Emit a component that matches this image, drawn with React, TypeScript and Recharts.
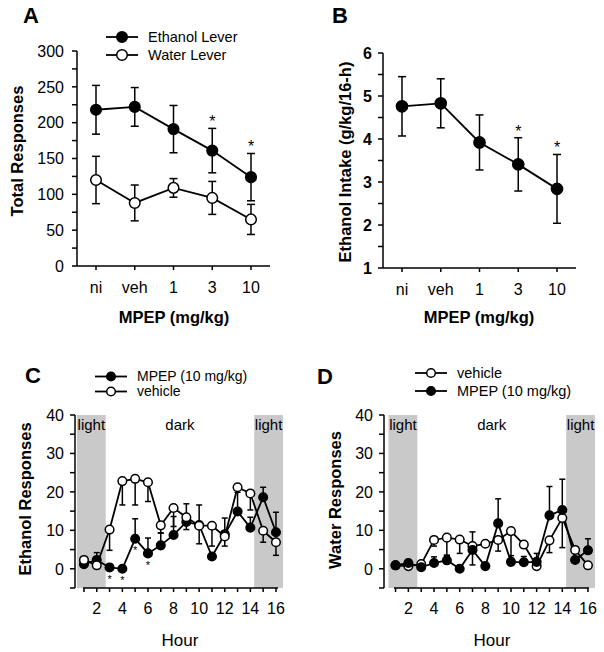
import React from 'react';
import { LineChart, Line, XAxis, YAxis, ErrorBar, ReferenceArea, Legend } from 'recharts';

const FONT = '"Liberation Sans", Arial, Helvetica, sans-serif';
const INK = '#000';
const SHADE = '#c9c9c9';

// ---- panels A & B: dose response ----
const doses = ['ni', 'veh', '1', '3', '10'];
const ethanolLever = [218, 222, 191, 161, 124];
const ethanolLeverSem = [34, 27, 33, 31, 33];
const waterLever = [120, 88, 109, 95, 65];
const waterLeverSem = [33, 25, 13, 23, 21];
const ethanolIntake = [4.76, 4.83, 3.92, 3.41, 2.84];
const ethanolIntakeSem = [0.69, 0.57, 0.64, 0.62, 0.8];
const doseSignificant = [false, false, false, true, true];

const responseTicks = [0, 25, 50, 75, 100, 125, 150, 175, 200, 225, 250, 275, 300];
const intakeTicks = [1, 1.5, 2, 2.5, 3, 3.5, 4, 4.5, 5, 5.5, 6];

// ---- panels C & D: hourly time course ----
const hours = [1, 2, 3, 4, 5, 6, 7, 8, 9, 10, 11, 12, 13, 14, 15, 16];
const countTicks = [-5, 0, 5, 10, 15, 20, 25, 30, 35, 40];
const lightPeriods = [[0.45, 2.7], [14.3, 16.55]];
const darkPeriod = [2.7, 14.3];

// ethanol lever, per hour
const etohMpep = [1.2, 2.3, 0.35, 0, 7.8, 4.0, 6.1, 8.8, 12.2, 11.4, 3.2, 9.0, 14.9, 10.7, 18.6, 9.5];
const etohMpepUp = [0.8, 1.9, 0, 0, 5.2, 4.0, 3.2, 4.8, 4.7, 5.2, 0, 4.2, 5.0, 2.7, 2.6, 5.2];
const etohMpepDown = [0, 0, 0, 0, 0, 0, 0, 0, 0, 0, 0, 0, 0, 0, 0, 0];
const etohVehicle = [2.3, 0.9, 10.2, 22.8, 23.4, 22.5, 11.3, 15.8, 13.4, 11.2, 11.2, 8.4, 21.2, 19.6, 9.9, 6.9];
const etohVehicleUp = [0, 0, 0, 0, 0, 0, 0, 0, 0, 0, 0, 0, 0, 0, 0, 0];
const etohVehicleDown = [0, 0, 5.4, 6.2, 6.8, 5.0, 2.0, 4.8, 3.2, 4.7, 5.3, 2.5, 0, 4.3, 3.0, 3.4];
const etohSignificant = [false, false, true, true, true, true, false, false, false, false, false, false, false, false, false, false];

// water lever, per hour
const waterVehicle = [0.9, 0.7, 1.2, 7.5, 8.1, 7.6, 5.9, 6.5, 7.5, 9.8, 6.3, 0.7, 7.4, 13.2, 4.9, 0.9];
const waterVehicleDown = [0, 0, 0, 1.6, 4.6, 3.6, 0, 0, 2.9, 7.8, 0, 0, 3.2, 7.7, 0, 0];
const waterMpep = [0.9, 1.5, 0.4, 1.5, 2.2, 0, 4.9, 0.7, 11.8, 1.8, 1.7, 1.8, 13.9, 15.3, 2.3, 4.8];
const waterMpepUp = [0, 0, 0, 1.6, 1.3, 0, 4.7, 0, 6.4, 1.6, 1.5, 2.2, 7.5, 8.0, 0, 3.0];
const waterMpepDown = [0, 0, 0, 0, 0, 0, 3.9, 0, 0, 0, 0, 0, 0, 0, 0, 0];

const doseData = doses.map((dose, i) => ({
  dose,
  eth: ethanolLever[i],
  ethErr: ethanolLeverSem[i],
  wat: waterLever[i],
  watErr: waterLeverSem[i],
  ethStar: doseSignificant[i] ? ethanolLever[i] + ethanolLeverSem[i] : null,
  intake: ethanolIntake[i],
  intakeErr: ethanolIntakeSem[i],
  intakeStar: doseSignificant[i] ? ethanolIntake[i] + ethanolIntakeSem[i] : null,
}));

const etohData = hours.map((hour, i) => ({
  hour,
  mpep: etohMpep[i],
  mpepErr: [etohMpepDown[i], etohMpepUp[i]],
  veh: etohVehicle[i],
  vehErr: [etohVehicleDown[i], etohVehicleUp[i]],
  star: etohSignificant[i] ? etohMpep[i] - etohMpepDown[i] : null,
}));

const waterData = hours.map((hour, i) => ({
  hour,
  veh: waterVehicle[i],
  vehErr: [waterVehicleDown[i], 0],
  mpep: waterMpep[i],
  mpepErr: [waterMpepDown[i], waterMpepUp[i]],
}));

const openNames = new Set(['Water Lever', 'vehicle']);

// legend rows: line + marker, in the order given (star helper series are left out)
const renderLegend = (order: string[], rowH: number, r: number, fontSize = 14.5) => (props: any) => {
  const items = (props.payload || [])
    .filter((e: any) => order.includes(e.value))
    .sort((a: any, b: any) => order.indexOf(a.value) - order.indexOf(b.value));
  return (
    <div style={{ fontSize, color: INK }}>
      {items.map((e: any) => (
        <div key={e.value} style={{ display: 'flex', alignItems: 'center', height: rowH, whiteSpace: 'nowrap' }}>
          <svg width={34} height={rowH} style={{ marginRight: 9, overflow: 'visible' }}>
            <line x1={1} y1={rowH / 2} x2={33} y2={rowH / 2} stroke={INK} strokeWidth={1.8} />
            <circle cx={17} cy={rowH / 2} r={r} fill={openNames.has(e.value) ? '#fff' : INK} stroke={INK} strokeWidth={1.5} />
          </svg>
          <span style={{ lineHeight: `${rowH}px` }}>{e.value}</span>
        </div>
      ))}
    </div>
  );
};

const makeYTick = (every: number, bold = false) => (props: any) => {
  const { x, y, payload } = props;
  const v = payload.value;
  if (Math.abs(v / every - Math.round(v / every)) > 1e-6) return <g />;
  return (
    <text x={x} y={y} dy="0.36em" textAnchor="end" fontSize={16} fontWeight={bold ? 700 : 400} fill={INK}>
      {v}
    </text>
  );
};

const hourTick = (props: any) => {
  const { x, y, payload } = props;
  if (payload.value % 2 !== 0) return <g />;
  return (
    <text x={x} y={y} dy="0.71em" textAnchor="middle" fontSize={16} fill={INK}>
      {payload.value}
    </text>
  );
};

const starDot = (above: boolean, size: number, gap: number) => (props: any) => {
  const { cx, cy, index } = props;
  if (cy == null || Number.isNaN(cy)) return <g key={`st-${index}`} />;
  return (
    <text key={`st-${index}`} x={cx} y={above ? cy - gap : cy + gap} textAnchor="middle" fontSize={size} fill={INK}>
      *
    </text>
  );
};

const axisLine = { stroke: INK, strokeWidth: 1.5 };
const errStyle = { stroke: INK, strokeWidth: 1.5 };
const filledDot = (r: number) => ({ r, fill: INK, stroke: INK, strokeWidth: 1.5 });
const openDot = (r: number) => ({ r, fill: '#fff', stroke: INK, strokeWidth: 1.5 });

function DosePanelA() {
  return (
    <LineChart width={300} height={320} data={doseData} margin={{ top: 51, right: 30, bottom: 0, left: 0 }}>
      <XAxis dataKey="dose" height={54} padding={{ left: 19, right: 19 }} interval={0}
        tickSize={4} tickMargin={12} axisLine={axisLine} tickLine={axisLine}
        tick={{ fill: INK, fontSize: 16 }} />
      <YAxis width={77} domain={[0, 300]} ticks={responseTicks} interval={0}
        tickSize={5} tickMargin={8} axisLine={axisLine} tickLine={axisLine} tick={makeYTick(50)} />
      <Legend layout="vertical" align="center" verticalAlign="middle"
        wrapperStyle={{ left: 105, top: 28, width: 'auto' }}
        content={renderLegend(['Ethanol Lever', 'Water Lever'], 18, 5.3)} />
      <Line dataKey="eth" name="Ethanol Lever" stroke={INK} strokeWidth={1.8} dot={filledDot(5.3)}
        activeDot={false} isAnimationActive={false}>
        <ErrorBar dataKey="ethErr" width={4} {...errStyle} />
      </Line>
      <Line dataKey="wat" name="Water Lever" stroke={INK} strokeWidth={1.8} dot={openDot(5.3)}
        activeDot={false} isAnimationActive={false}>
        <ErrorBar dataKey="watErr" width={4} {...errStyle} />
      </Line>
      <Line dataKey="ethStar" stroke="none" legendType="none" dot={starDot(true, 16, 1)}
        activeDot={false} isAnimationActive={false} />
    </LineChart>
  );
}

function DosePanelB() {
  return (
    <LineChart width={304} height={320} data={doseData} margin={{ top: 53, right: 28, bottom: 0, left: 0 }}>
      <XAxis dataKey="dose" height={52} padding={{ left: 19, right: 19 }} interval={0}
        tickSize={4} tickMargin={12} axisLine={axisLine} tickLine={axisLine}
        tick={{ fill: INK, fontSize: 16 }} />
      <YAxis width={83} domain={[1, 6]} ticks={intakeTicks} interval={0}
        tickSize={5} tickMargin={6} axisLine={axisLine} tickLine={axisLine} tick={makeYTick(1, true)} />
      <Line dataKey="intake" name="Ethanol Intake" stroke={INK} strokeWidth={1.8} dot={filledDot(5.6)}
        activeDot={false} isAnimationActive={false}>
        <ErrorBar dataKey="intakeErr" width={4} {...errStyle} />
      </Line>
      <Line dataKey="intakeStar" stroke="none" legendType="none" dot={starDot(true, 16, 1)}
        activeDot={false} isAnimationActive={false} />
    </LineChart>
  );
}

function HourPanel(props: {
  data: any[];
  width: number;
  yAxisWidth: number;
  right: number;
  domainMin: number;
  axisDash: string;
  legendLeft: number;
  legendTop: number;
  legendRow: number;
  legendFont: number;
  legendOrder: string[];
  withStars?: boolean;
}) {
  const { data, width, yAxisWidth, right, domainMin, axisDash, legendLeft, legendTop, legendRow, legendFont, legendOrder, withStars } = props;
  const bandLabel = (text: string) => ({ value: text, position: 'insideTop' as const, offset: 4, fill: INK, fontSize: 15 });
  const series = legendOrder.map((name) =>
    name === 'vehicle' ? (
      <Line key="veh" dataKey="veh" name="vehicle" stroke={INK} strokeWidth={1.8} dot={openDot(4.3)}
        activeDot={false} isAnimationActive={false}>
        <ErrorBar dataKey="vehErr" width={3} {...errStyle} />
      </Line>
    ) : (
      <Line key="mpep" dataKey="mpep" name="MPEP (10 mg/kg)" stroke={INK} strokeWidth={1.8} dot={filledDot(4.3)}
        activeDot={false} isAnimationActive={false}>
        <ErrorBar dataKey="mpepErr" width={3} {...errStyle} />
      </Line>
    )
  );
  return (
    <LineChart width={width} height={322} data={data} margin={{ top: 85, right, bottom: 0, left: 0 }}>
      {lightPeriods.map(([a, b], i) => (
        <ReferenceArea key={`light-${i}`} x1={a} x2={b} fill={SHADE} fillOpacity={1} stroke="none"
          ifOverflow="hidden" label={bandLabel('light')} />
      ))}
      <ReferenceArea x1={darkPeriod[0]} x2={darkPeriod[1]} fill="#fff" fillOpacity={0} stroke="none"
        ifOverflow="hidden" label={bandLabel('dark')} />
      <XAxis type="number" dataKey="hour" domain={[domainMin, 16.55]} allowDataOverflow ticks={hours}
        interval={0} height={64} tickSize={4} tickMargin={11}
        axisLine={{ ...axisLine, strokeDasharray: axisDash }} tickLine={axisLine} tick={hourTick} />
      <YAxis width={yAxisWidth} domain={[-5, 40]} ticks={countTicks} interval={0} allowDataOverflow
        tickSize={5} tickMargin={6} axisLine={axisLine} tickLine={axisLine} tick={makeYTick(10)} />
      <Legend layout="vertical" align="center" verticalAlign="middle"
        wrapperStyle={{ left: legendLeft, top: legendTop, width: 'auto' }}
        content={renderLegend(legendOrder, legendRow, 4.3, legendFont)} />
      {series}
      {withStars && (
        <Line dataKey="star" stroke="none" legendType="none" dot={starDot(false, 11, 15.5)}
          activeDot={false} isAnimationActive={false} />
      )}
    </LineChart>
  );
}

export default function App() {
  const titleStyle = { fontFamily: FONT, fill: INK };
  return (
    <div style={{ position: 'absolute', left: 0, top: 0, width: 604, height: 652, background: '#fff', fontFamily: FONT, overflow: 'hidden' }}>
      <div style={{ position: 'absolute', left: 0, top: 0 }}>
        <DosePanelA />
      </div>
      <div style={{ position: 'absolute', left: 300, top: 0 }}>
        <DosePanelB />
      </div>
      <div style={{ position: 'absolute', left: 0, top: 330 }}>
        <HourPanel data={etohData} width={300} yAxisWidth={75} right={17} domainMin={0.3}
          axisDash="0 8 195 400" legendLeft={94} legendTop={39} legendRow={15} legendFont={14}
          legendOrder={['MPEP (10 mg/kg)', 'vehicle']} withStars />
      </div>
      <div style={{ position: 'absolute', left: 300, top: 330 }}>
        <HourPanel data={waterData} width={304} yAxisWidth={84} right={9} domainMin={0.1}
          axisDash="0 10 195 400" legendLeft={114} legendTop={34} legendRow={18} legendFont={14.5}
          legendOrder={['vehicle', 'MPEP (10 mg/kg)']} />
      </div>
      <svg width={604} height={652} style={{ position: 'absolute', left: 0, top: 0, pointerEvents: 'none' }}>
        <g fontWeight={700} style={titleStyle as any}>
          <text x={23} y={23} fontSize={22}>A</text>
          <text x={332} y={23} fontSize={22}>B</text>
          <text x={25} y={383} fontSize={22}>C</text>
          <text x={317} y={384} fontSize={22}>D</text>
          <text transform="translate(17,151) rotate(-90)" textAnchor="middle" dominantBaseline="central" fontSize={16.5}>Total Responses</text>
          <text transform="translate(345,162) rotate(-90)" textAnchor="middle" dominantBaseline="central" fontSize={16.5}>Ethanol Intake (g/kg/16-h)</text>
          <text transform="translate(25,499) rotate(-90)" textAnchor="middle" dominantBaseline="central" fontSize={16.5}>Ethanol Responses</text>
          <text transform="translate(335,500) rotate(-90)" textAnchor="middle" dominantBaseline="central" fontSize={16.5}>Water Responses</text>
          <text x={174} y={323} textAnchor="middle" fontSize={16.5}>MPEP (mg/kg)</text>
          <text x={479} y={323} textAnchor="middle" fontSize={16.5}>MPEP (mg/kg)</text>
        </g>
        <g style={titleStyle as any}>
          <text x={180} y={646} textAnchor="middle" fontSize={17}>Hour</text>
          <text x={492} y={646} textAnchor="middle" fontSize={17}>Hour</text>
        </g>
      </svg>
    </div>
  );
}
